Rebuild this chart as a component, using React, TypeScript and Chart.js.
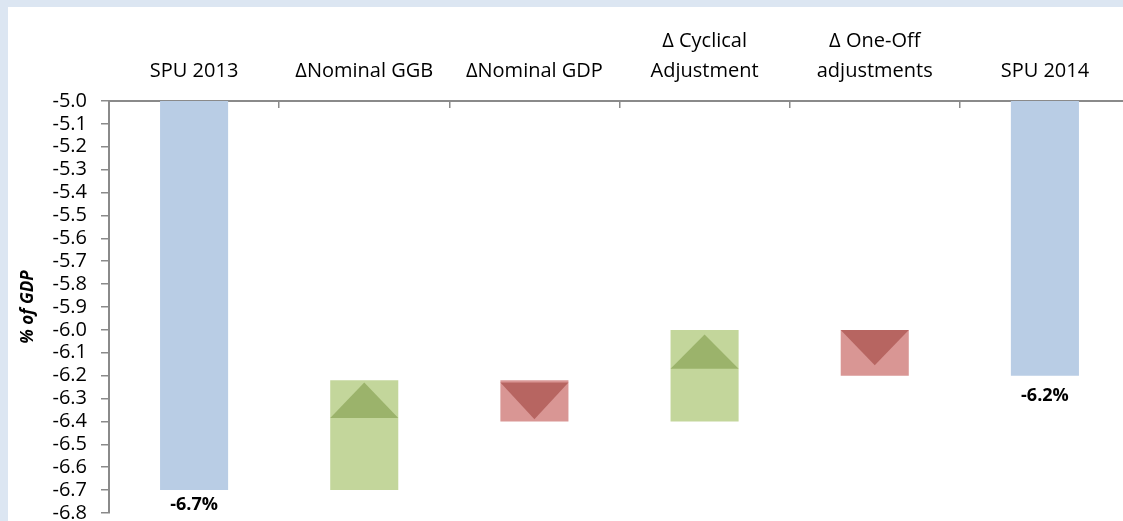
import React, { useEffect, useRef } from "react";
import { Chart, registerables } from "chart.js";

Chart.register(...registerables);

// ---- data ----
const categories: string[][] = [
  ["SPU 2013"],
  ["ΔNominal GGB"],
  ["ΔNominal GDP"],
  ["Δ Cyclical", "Adjustment"],
  ["Δ One-Off", "adjustments"],
  ["SPU 2014"],
];
const barFrom = [-5.0, -6.7, -6.22, -6.4, -6.0, -5.0];
const barTo = [-6.7, -6.22, -6.4, -6.0, -6.2, -6.2];
const barKind = ["total", "up", "down", "up", "down", "total"];
const arrowBase: (number | null)[] = [null, -6.385, -6.23, -6.17, -6.0, null];
const arrowTip: (number | null)[] = [null, -6.23, -6.39, -6.02, -6.155, null];
const valueLabels = ["-6.7%", "", "", "", "", "-6.2%"];
const yMin = -6.8;
const yMax = -5.0;
const yStep = 0.1;
const yTitle = "% of GDP";

// ---- styles ----
const FONT = "'Open Sans', 'Noto Sans', sans-serif";
const barColors: Record<string, string> = {
  total: "#b9cde5",
  up: "#c3d69b",
  down: "#d99694",
};
const arrowColors: Record<string, string> = {
  up: "#9bb36b",
  down: "#b76561",
};
const labelGap = [6, 0, 0, 0, 0, 11];
const AXIS = "#8a8a8a";

const overlayPlugin = {
  id: "waterfallOverlay",
  afterDatasetsDraw(chart: any) {
    const meta = chart.getDatasetMeta(0);
    const y = chart.scales.y;
    const ctx = chart.ctx;
    ctx.save();
    meta.data.forEach((bar: any, i: number) => {
      const { x, width } = bar.getProps(["x", "width"], true);
      const b = arrowBase[i];
      const t = arrowTip[i];
      if (b !== null && t !== null) {
        const yb = y.getPixelForValue(b);
        const yt = y.getPixelForValue(t);
        ctx.beginPath();
        ctx.moveTo(x - width / 2, yb);
        ctx.lineTo(x + width / 2, yb);
        ctx.lineTo(x, yt);
        ctx.closePath();
        ctx.fillStyle = arrowColors[barKind[i]];
        ctx.fill();
      }
      if (valueLabels[i]) {
        const low = Math.min(barFrom[i], barTo[i]);
        const yl = y.getPixelForValue(low) + labelGap[i];
        ctx.font = `bold 18px ${FONT}`;
        ctx.fillStyle = "#000";
        ctx.textAlign = "center";
        ctx.textBaseline = "top";
        ctx.fillText(valueLabels[i], x, yl);
      }
    });
    ctx.restore();
  },
};

export default function App() {
  const ref = useRef<HTMLCanvasElement | null>(null);

  useEffect(() => {
    if (!ref.current) return;
    const chart = new Chart(ref.current, {
      type: "bar",
      data: {
        labels: categories,
        datasets: [
          {
            data: barFrom.map((v, i) => [v, barTo[i]]) as any,
            backgroundColor: barKind.map((k) => barColors[k]),
            borderWidth: 0,
            barPercentage: 0.4,
            categoryPercentage: 1.0,
          },
        ],
      },
      options: {
        responsive: false,
        animation: false,
        layout: { padding: { left: 0, right: 18, top: 0, bottom: 21 } },
        plugins: {
          legend: { display: false },
          tooltip: { enabled: false },
        },
        scales: {
          x: {
            position: "top",
            offset: true,
            grid: {
              offset: true,
              drawOnChartArea: false,
              drawTicks: true,
              tickLength: -7,
              color: AXIS,
              lineWidth: 1.5,
            },
            border: { display: true, color: AXIS, width: 2 },
            ticks: {
              color: "#000",
              font: { family: FONT, size: 20, lineHeight: 1.5 },
              padding: 22,
              maxRotation: 0,
              autoSkip: false,
            },
            afterFit: (scale: any) => {
              scale.height = 94;
            },
          },
          y: {
            min: yMin,
            max: yMax,
            grid: {
              drawOnChartArea: false,
              drawTicks: true,
              tickLength: 8,
              color: AXIS,
              lineWidth: 1.5,
            },
            border: { display: true, color: AXIS, width: 2 },
            ticks: {
              stepSize: yStep,
              autoSkip: false,
              color: "#000",
              padding: 14,
              font: { family: FONT, size: 20, lineHeight: 1.0 },
              callback: (v: any) => Number(v).toFixed(1),
            },
            title: {
              display: true,
              text: yTitle,
              color: "#000",
              font: { family: FONT, size: 17, style: "italic", weight: "bold", lineHeight: 1.2 },
              padding: { top: 10, bottom: 0 },
            },
            afterFit: (scale: any) => {
              scale.width = 101;
            },
          },
        },
      },
      plugins: [overlayPlugin],
    });
    return () => chart.destroy();
  }, []);

  return (
    <div style={{ position: "fixed", inset: 0, background: "#dce6f2", overflow: "hidden" }}>
      <div style={{ position: "absolute", left: 8, top: 7, width: 1140, height: 530, background: "#fff" }}>
        <canvas ref={ref} width={1140} height={530} style={{ display: "block" }} />
      </div>
    </div>
  );
}
